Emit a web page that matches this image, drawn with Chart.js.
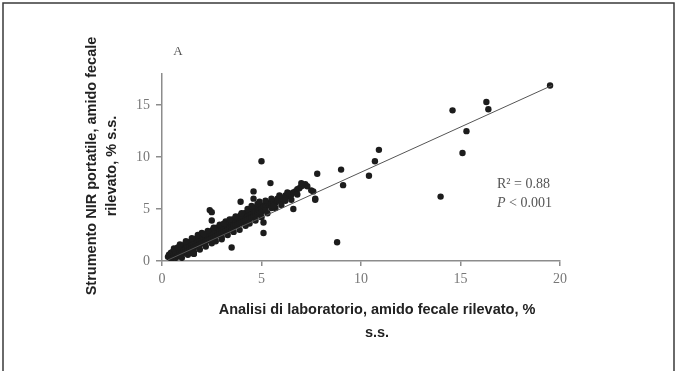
<!DOCTYPE html>
<html>
<head>
<meta charset="utf-8">
<script src="https://cdn.jsdelivr.net/npm/chart.js@4"></script>
<style>
  html, body { margin: 0; padding: 0; background: #fff; }
  #wrap { width: 676px; height: 371px; position: relative; }
</style>
</head>
<body>
<div id="wrap"><canvas id="scatterChart" width="676" height="371"></canvas></div>
<script>
// Data: [laboratorio, NIR portatile]
const clusterPoints = [
  [0.3,0.4],[0.35,0.6],[0.4,0.3],[0.45,0.8],[0.5,0.5],[0.5,0.2],[0.55,0.9],[0.6,0.6],[0.6,0.4],[0.65,1.0],
  [0.7,0.7],[0.7,0.3],[0.75,1.2],[0.8,0.8],[0.8,0.5],[0.85,1.1],[0.9,0.9],[0.9,0.6],[0.95,1.4],[1.0,1.0],
  [1.0,0.7],[1.05,1.3],[1.1,1.1],[1.1,0.8],[1.15,1.6],[1.2,1.2],[1.2,0.9],[1.25,1.5],[1.3,1.3],[1.3,1.0],
  [1.35,1.8],[1.4,1.4],[1.4,1.1],[1.45,1.7],[1.5,1.5],[1.5,1.2],[1.55,2.0],[1.6,1.6],[1.6,1.3],[1.6,0.7],
  [1.65,1.9],[1.7,1.7],[1.7,1.4],[1.75,2.2],[1.8,1.8],[1.8,1.5],[1.85,2.1],[1.9,1.9],[1.9,1.6],[1.95,2.4],
  [2.0,2.0],[2.0,1.7],[2.05,2.3],[2.1,2.1],[2.1,1.8],[2.15,2.6],[2.2,2.2],[2.2,1.9],[2.25,2.5],[2.3,2.3],
  [2.3,2.0],[2.35,2.8],[2.4,2.4],[2.4,2.1],[2.45,2.7],[2.5,2.5],[2.5,2.2],[2.55,3.0],[2.6,2.6],[2.6,2.3],
  [2.65,2.9],[2.7,2.7],[2.7,2.4],[2.75,3.2],[2.8,2.8],[2.8,2.5],[2.85,3.1],[2.9,2.9],[2.9,2.6],[2.95,3.4],
  [3.0,3.0],[3.0,2.7],[3.0,2.1],[3.05,3.3],[3.1,3.1],[3.1,2.8],[3.15,3.6],[3.2,3.2],[3.2,2.9],[3.25,3.5],
  [3.3,3.3],[3.3,3.0],[3.35,3.8],[3.4,3.4],[3.4,3.1],[3.45,3.7],[3.5,3.5],[3.5,3.2],[3.55,4.0],[3.6,3.6],
  [3.6,3.3],[3.65,3.9],[3.7,3.7],[3.7,3.4],[3.75,4.2],[3.8,3.8],[3.8,3.5],[3.85,4.1],[3.9,3.9],[3.9,3.6],
  [3.95,4.4],[4.0,4.0],[4.0,3.7],[4.05,4.3],[4.1,4.1],[4.1,3.8],[4.15,4.6],[4.2,4.2],[4.2,3.9],[4.25,4.5],
  [4.3,4.3],[4.3,4.0],[4.35,4.8],[4.4,4.4],[4.4,4.1],[4.45,4.7],[4.5,4.5],[4.5,4.2],[4.55,5.0],[4.6,4.6],
  [4.6,4.3],[4.65,4.9],[4.7,4.7],[4.7,4.4],[4.75,5.2],[4.8,4.8],[4.8,4.5],[4.85,5.1],[4.9,4.9],[4.9,4.6],
  [4.95,5.4],[5.0,5.0],[5.0,4.7],[5.1,5.3],[5.2,5.2],[5.2,4.9],[5.3,5.6],[5.4,5.4],[5.5,5.5],[5.5,5.1],
  [5.6,5.8],[5.7,5.6],[5.8,6.0],[5.9,5.8],[6.0,6.1],[6.1,5.9],[6.2,6.3],[6.3,6.2],[6.4,6.5],[6.5,6.4],
  [6.6,6.6],[6.7,6.7],[6.8,6.9],[6.9,7.0],[7.0,7.2],[7.1,7.3],[7.2,7.4],[7.3,7.2]
];
// upper and lower edges of the dense band
const bandEdgePoints = [
  [0.6,1.2],[0.9,1.6],[1.0,0.3],[1.2,1.9],[1.3,0.6],[1.5,2.2],[1.6,0.9],[1.8,2.5],[1.9,1.1],[2.0,2.7],
  [2.2,1.4],[2.3,2.9],[2.5,1.7],[2.6,3.2],[2.7,1.9],[2.9,3.5],[3.0,2.3],[3.2,3.8],[3.3,2.5],[3.4,4.0],
  [3.6,2.8],[3.7,4.3],[3.9,3.0],[4.0,4.6],[4.2,3.4],[4.3,5.0],[4.4,3.6],[4.5,5.3],[4.7,3.9],[4.8,5.5],
  [5.0,4.2],[5.2,5.8],[5.3,4.6],[5.5,6.0],[5.7,5.1],[5.9,6.3],[6.0,5.4],[6.3,6.6],[6.5,5.9],[6.8,6.4],
  [3.1,3.6],[3.5,3.0],[2.1,2.6],[1.4,0.8],[0.8,1.3],[4.9,5.7],[5.6,5.3],[6.2,5.8]
];
const outlierPoints = [
  [1.6,0.7],[2.4,4.9],[2.5,4.7],[2.5,3.9],[3.5,1.3],[3.95,5.7],[4.6,6.7],[4.6,6.0],[5.0,9.6],[5.1,3.7],
  [5.1,2.7],[5.45,7.5],[6.6,5.0],[7.0,7.5],[7.5,6.8],[7.6,6.7],[7.7,6.0],[7.7,5.9],[7.8,8.4],[8.8,1.8],
  [9.0,8.8],[9.1,7.3],[10.4,8.2],[10.7,9.6],[10.9,10.7],[14.0,6.2],[14.6,14.5],[15.1,10.4],[15.3,12.5],
  [16.3,15.3],[16.4,14.6],[19.5,16.9]
];
// regression line end points
const fitX = [0.3, 19.6];
const fitY = [0.1, 16.9];
const xTicks = [0, 5, 10, 15, 20];
const yTicks = [0, 5, 10, 15];

const xTitle = ['Analisi di laboratorio, amido fecale rilevato, %', 's.s.'];
const yTitle = ['Strumento NIR portatile, amido fecale', 'rilevato, % s.s.'];

const scatterData = clusterPoints.concat(bandEdgePoints, outlierPoints).map(p => ({ x: p[0], y: p[1] }));
const fitData = fitX.map((x, i) => ({ x: x, y: fitY[i] }));

// Extra drawing: frame, axis titles, panel letter, R2 text
const decorPlugin = {
  id: 'decor',
  afterDraw(chart) {
    const ctx = chart.ctx;
    ctx.save();
    // frame
    ctx.strokeStyle = '#3a3a3a';
    ctx.lineWidth = 1.5;
    ctx.beginPath();
    ctx.moveTo(3, 371);
    ctx.lineTo(3, 3);
    ctx.lineTo(674, 3);
    ctx.lineTo(674, 371);
    ctx.stroke();

    // x title
    ctx.fillStyle = '#222';
    ctx.font = 'bold 14.5px "Liberation Sans", Arial, sans-serif';
    ctx.textAlign = 'center';
    ctx.textBaseline = 'middle';
    ctx.fillText(xTitle[0], 377, 310);
    ctx.fillText(xTitle[1], 377, 333);

    // y title (rotated)
    ctx.save();
    ctx.translate(92, 166);
    ctx.rotate(-Math.PI / 2);
    ctx.fillText(yTitle[0], 0, 0);
    ctx.fillText(yTitle[1], 0, 20);
    ctx.restore();

    // panel letter
    ctx.fillStyle = '#555';
    ctx.font = '13px "Liberation Serif", "Times New Roman", serif';
    ctx.fillText('A', 178, 52);

    // R2 and P
    ctx.textAlign = 'left';
    ctx.font = '14px "Liberation Serif", "Times New Roman", serif';
    ctx.fillText('R² = 0.88', 497, 184);
    ctx.font = 'italic 14px "Liberation Serif", "Times New Roman", serif';
    ctx.fillText('P', 497, 203);
    const pw = ctx.measureText('P').width;
    ctx.font = '14px "Liberation Serif", "Times New Roman", serif';
    ctx.fillText(' < 0.001', 497 + pw, 203);
    ctx.restore();
  }
};

const axisColor = '#8c8c8c';
const tickFont = { family: '"Liberation Serif", "Times New Roman", serif', size: 14 };

new Chart(document.getElementById('scatterChart').getContext('2d'), {
  type: 'scatter',
  data: {
    datasets: [
      {
        type: 'line',
        label: 'Regressione',
        data: fitData,
        borderColor: '#555',
        borderWidth: 1,
        pointRadius: 0,
        fill: false
      },
      {
        label: 'Campioni',
        data: scatterData,
        backgroundColor: '#1c1c1c',
        borderColor: '#1c1c1c',
        borderWidth: 0,
        pointRadius: 3.2,
        pointHoverRadius: 3.2
      }
    ]
  },
  options: {
    responsive: false,
    animation: false,
    layout: { padding: { left: 0, top: 74, right: 116, bottom: 0 } },
    plugins: {
      legend: { display: false },
      tooltip: { enabled: false }
    },
    scales: {
      x: {
        type: 'linear',
        min: 0,
        max: 20,
        afterBuildTicks: (scale) => { scale.ticks = xTicks.map(v => ({ value: v })); },
        afterFit: (scale) => { scale.height = 110; },
        grid: { display: true, drawOnChartArea: false, drawTicks: true, tickLength: 5, color: axisColor, lineWidth: 1.5 },
        border: { display: true, color: axisColor, width: 1.5 },
        ticks: { color: '#777', font: tickFont, padding: 5, maxRotation: 0 }
      },
      y: {
        type: 'linear',
        min: 0,
        max: 18,
        afterBuildTicks: (scale) => { scale.ticks = yTicks.map(v => ({ value: v })); },
        afterFit: (scale) => { scale.width = 162; },
        grid: { display: true, drawOnChartArea: false, drawTicks: true, tickLength: 6, color: axisColor, lineWidth: 1.5 },
        border: { display: true, color: axisColor, width: 1.5 },
        ticks: { color: '#777', font: tickFont, padding: 6 }
      }
    }
  },
  plugins: [decorPlugin]
});
</script>
</body>
</html>
